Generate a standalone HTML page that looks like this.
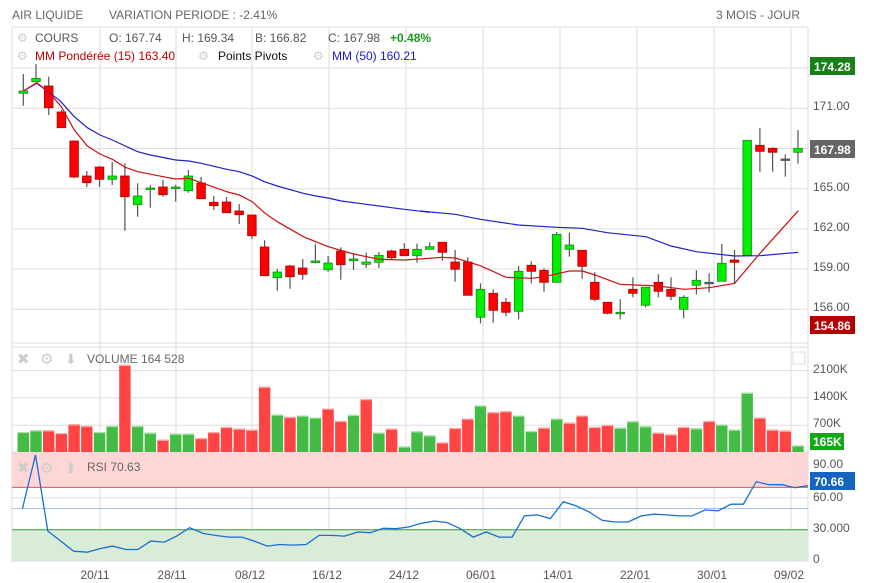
<!DOCTYPE html>
<html><head><meta charset="utf-8"><style>
body{margin:0;background:#fff;}
svg{display:block;font-family:"Liberation Sans",sans-serif;}
</style></head><body>
<svg id="s" width="871" height="583" viewBox="0 0 871 583" xmlns="http://www.w3.org/2000/svg">
<rect width="871" height="583" fill="#fff"/>
<g id="grid"></g>
<rect x="12" y="452" width="796" height="35" fill="#ffd6d6"/>
<rect x="12" y="530" width="796" height="31" fill="#d9ecd7"/>
<g id="g2"></g>
<text x="12" y="19" font-size="12" fill="#666">AIR LIQUIDE</text>
<text x="109" y="19" font-size="12" fill="#666">VARIATION PERIODE : -2.41%</text>
<text x="800" y="19" font-size="12" fill="#666" text-anchor="end">3 MOIS - JOUR</text>
<g font-size="12">
<text x="17" y="42" fill="#ccc">⚙</text><text x="35" y="42" fill="#555">COURS</text>
<text x="109" y="42" fill="#555">O: 167.74</text>
<text x="182" y="42" fill="#555">H: 169.34</text>
<text x="255" y="42" fill="#555">B: 166.82</text>
<text x="328" y="42" fill="#555">C: 167.98</text>
<text x="390" y="42" fill="#1a9a1a" font-weight="bold">+0.48%</text>
<text x="17" y="60" fill="#ccc">⚙</text><text x="35" y="60" fill="#c00000">MM Pondérée (15)  163.40</text>
<text x="198" y="60" fill="#ccc">⚙</text><text x="218" y="60" fill="#111">Points Pivots</text>
<text x="313" y="60" fill="#ccc">⚙</text><text x="332" y="60" fill="#1a1acc">MM (50)  160.21</text>
</g>
<g font-size="12" fill="#555">
<text x="813" y="110">171.00</text><text x="813" y="191">165.00</text><text x="813" y="231">162.00</text>
<text x="813" y="271">159.00</text><text x="813" y="311">156.00</text>
<text x="813" y="373">2100K</text><text x="813" y="400">1400K</text><text x="813" y="427">700K</text>
<text x="813" y="468">90.00</text><text x="813" y="501">60.00</text><text x="813" y="532">30.000</text><text x="813" y="563">0</text>
</g>
<rect x="810" y="57" width="45" height="18" fill="#1a7f1a"/><text x="814" y="71" font-size="12" font-weight="bold" fill="#fff">174.28</text>
<rect x="810" y="140" width="45" height="18" fill="#666"/><text x="814" y="154" font-size="12" font-weight="bold" fill="#fff">167.98</text>
<rect x="810" y="316" width="45" height="18" fill="#b30000"/><text x="814" y="330" font-size="12" font-weight="bold" fill="#fff">154.86</text>
<rect x="810" y="433" width="34" height="17" fill="#14a814"/><text x="813" y="446" font-size="12" font-weight="bold" fill="#fff">165K</text>
<rect x="810" y="472" width="45" height="18" fill="#1565c0"/><text x="814" y="486" font-size="12" font-weight="bold" fill="#fff">70.66</text>
<g font-size="12" fill="#999">
<text x="17" y="364" font-size="15" fill="#ccc">✖</text><text x="40" y="364" font-size="15" fill="#ccc">⚙</text><text x="65" y="364" font-size="14" fill="#ccc">⬇</text>
<text x="87" y="363" fill="#666">VOLUME  164 528</text>
<text x="17" y="473" font-size="15" fill="#ccc">✖</text><text x="40" y="473" font-size="15" fill="#ccc">⚙</text><text x="65" y="473" font-size="14" fill="#ccc">⬆</text>
<text x="87" y="471" fill="#666">RSI  70.63</text>
</g>
<rect x="793" y="352" width="12" height="12" fill="none" stroke="#ddd"/>
<rect x="793" y="462" width="12" height="12" fill="none" stroke="#ddd"/>
<g font-size="12" fill="#555">
<text x="95" y="579" text-anchor="middle">20/11</text><text x="172" y="579" text-anchor="middle">28/11</text>
<text x="250" y="579" text-anchor="middle">08/12</text><text x="327" y="579" text-anchor="middle">16/12</text>
<text x="404" y="579" text-anchor="middle">24/12</text><text x="481" y="579" text-anchor="middle">06/01</text>
<text x="558" y="579" text-anchor="middle">14/01</text><text x="635" y="579" text-anchor="middle">22/01</text>
<text x="712" y="579" text-anchor="middle">30/01</text><text x="789" y="579" text-anchor="middle">09/02</text>
</g>
</svg>
<script>
const NS="http://www.w3.org/2000/svg";
const grid=document.getElementById('grid'),g2=document.getElementById('g2');
function el(p,t,a){const e=document.createElementNS(NS,t);for(const k in a)e.setAttribute(k,a[k]);p.appendChild(e);return e;}
// gridlines
[27,68,108.3,148.5,188.7,228.9,269,309.3,343,347,370.6,397.8,425.3,452,464,497.8,561].forEach(y=>el(grid,'line',{x1:12,x2:808,y1:y,y2:y,stroke:'#ddd','stroke-width':1}));
[100,176,252,329,406,483,560,637,714,791].forEach(x=>el(grid,'line',{x1:x,x2:x,y1:27,y2:562,stroke:'#ddd','stroke-width':1}));
el(grid,'line',{x1:12,x2:12,y1:27,y2:562,stroke:'#ddd'});
el(grid,'line',{x1:808,x2:808,y1:27,y2:562,stroke:'#ddd'});
el(grid,'line',{x1:12,x2:808,y1:27,y2:27,stroke:'#ddd'});
// rsi ref lines
el(g2,'line',{x1:12,x2:808,y1:487.4,y2:487.4,stroke:'#f05050'});
el(g2,'line',{x1:12,x2:808,y1:508.5,y2:508.5,stroke:'#a0c8f0'});
el(g2,'line',{x1:12,x2:808,y1:529.7,y2:529.7,stroke:'#3a9a3a'});
// candles: [color, bodyTop, bodyBot, wickTop, wickBot]
const C=[
['g',91,93.3,74,105.7],['g',78.3,81.7,64,81.7],['r',86,107.7,76.7,115],['r',112,127.7,110,127.7],['r',141,177,141,178],
['r',176,182.7,171,187],['r',167,179.3,166,187],['g',176,179.3,162,185],['r',176,196.7,163.3,230.7],['g',196,204.7,183.3,216.7],
['g',188,189.3,185,207.7],['r',187,194.7,180,196.7],['g',187,188.3,185,201.7],['g',176,190.7,170,192.7],['r',183,198.7,177,198.7],
['r',202.3,205.7,196,210],['r',202,212.7,197,212.7],['r',211,214.7,204,224],['r',215,235.7,215,239],['r',247,275.7,240.3,275.7],
['g',272,277.7,269,290.7],['r',266,276.7,265,288.7],['r',268,274.3,259,279.7],['g',261,262.3,243.7,263.3],['g',263,269.7,256,271.7],
['r',251,264.7,247.3,279.7],['g',259,260.7,254,270],['g',262,264.3,252.7,268],['g',255.3,262.3,252,268],['r',251,257.7,249.7,259.7],
['r',249.3,255.7,243,255.7],['g',249.3,255.7,243.7,262.7],['g',246.7,249.3,242.3,249.3],['r',242.3,252.3,242.3,260.7],['r',262,269.3,250,281.7],
['r',262,295.3,257.3,295.3],['g',289.3,317.3,283.3,323.3],['r',293.3,310.3,289.3,322.7],['r',302.3,312.3,298,316.3],['g',271.3,311.3,266,319.3],
['r',265.3,271.3,261.3,283.3],['r',270.3,282.3,268.3,291.7],['g',234.3,282.3,232,282.3],['g',245,249.3,232.7,256.7],['r',250.3,266.3,250.3,278.7],
['r',282.3,299.3,272.3,301.3],['r',302.3,313.3,302.3,314.3],['g',312.3,313.7,299.3,319.3],['r',289.3,293.3,277.3,297.3],['g',287.3,305.3,287.3,307.3],
['r',282.3,291.3,274.3,297.3],['r',289.3,296.3,277.3,300.3],['g',297.3,309.3,295.3,318.3],['g',280.3,285.3,270.3,294.3],['n',282.3,283.3,273.3,292.3],
['g',263.3,281.3,244,281.3],['r',260,262.3,250,283.3],['g',140.3,255.3,140.3,255.3],['r',145.3,151.3,128,171.7],['r',148.3,152.3,147.3,171.7],
['n',159,159.6,154.3,176.7],['g',148.3,152.3,130,163.7]];
const X=i=>23.3+i*12.7;
// volume
const V=[['g',280],['g',275],['r',275],['r',283],['r',257],['r',262],['g',280],['g',262],['r',80],['g',262],['g',282],['r',303],['g',285],['g',285],['r',298],['r',280],['r',265],['r',270],['r',273],['r',145],['g',228],['r',235],['g',231],['g',237],['r',210],['r',247],['g',229],['r',182],['g',282],['r',270],['g',323],['g',278],['g',290],['r',311],['r',268],['r',240],['g',201],['r',221],['r',218],['g',231],['g',277],['r',267],['g',240],['r',252],['r',231],['r',265],['r',259],['g',267],['g',248],['g',263],['r',282],['r',287],['r',265],['g',269],['r',247],['g',258],['g',273],['g',163],['r',237],['r',273],['r',276],['g',320]];
V.forEach((v,i)=>{const y=338+v[1]*0.3357,x=X(i);
 el(g2,'rect',{x:x-5.7,y:y,width:11.4,height:452-y,fill:v[0]=='g'?'#44bb44':'#ff4444'});
 el(g2,'rect',{x:x-5.7,y:y,width:11.4,height:1.2,fill:v[0]=='g'?'#a8e0a8':'#ffaaaa'});});
C.forEach((c,i)=>{const x=X(i);
 el(g2,'line',{x1:x,x2:x,y1:c[3],y2:c[4],stroke:'#555','stroke-width':1.2});
 const col=c[0]=='g'?'#00ee00':(c[0]=='r'?'#ff0000':'#555');
 const st=c[0]=='g'?'#1a8a1a':(c[0]=='r'?'#b00000':'#555');
 el(g2,'rect',{x:x-4.3,y:c[1],width:8.6,height:Math.max(1.5,c[2]-c[1]),fill:col,stroke:st,'stroke-width':0.8});});
function line(pts,col,sx,ox,sy,oy,w){el(g2,'polyline',{points:pts.map(p=>(p[0]*sx+ox).toFixed(1)+','+(p[1]*sy+oy).toFixed(1)).join(' '),fill:'none',stroke:col,'stroke-width':w||1.2});}
const blue3=[[40,93],[80,70],[150,122],[193,170],[232,203],[270,225],[307,240],[346,258],[383,275],[421,285],[497,300],[536,303],[574,310],[650,328],[688,335],[727,348],[763,365],[802,378],[880,400],[917,408],[955,414],[994,423],[1069,433],[1145,443],[1183,448],[1258,457]];
const blue4=[[0,453],[106,463],[181,478],[295,495],[411,502],[487,505],[562,518],[678,530],[753,558],[829,575],[944,588],[1020,587],[1135,577]];
const red3=[[40,93],[80,68],[115,95],[154,140],[193,210],[232,258],[270,282],[307,298],[346,322],[383,335],[460,350],[497,357],[536,355],[574,368],[650,395],[688,405],[727,425],[763,458],[802,485],[880,530],[955,560],[1031,582],[1108,598],[1183,600],[1258,595]];
const red4=[[0,597],[66,592],[106,594],[181,617],[258,652],[334,655],[373,650],[448,633],[487,633],[525,645],[600,673],[715,678],[793,688],[868,683],[944,670],[1020,580],[1135,452]];
const cv=(a,ox)=>a.map(p=>[p[0]/3+ox,p[1]/3+60]);
line(cv(blue3,10).concat(cv(blue4,420)),'#2020cc',1,0,1,0);
line(cv(red3,10).concat(cv(red4,420)),'#cc1010',1,0,1,0);
const rsi=[[40,508],[63,348],[85,575],[108,605],[131,635],[155,638],[177,628],[200,620],[224,630],[245,630],[268,605],[292,608],[314,590],[337,565],[361,582],[383,588],[406,593],[430,593],[452,605],[475,620],[497,615],[520,617],[544,615],[567,588],[590,588],[612,590],[636,578],[658,580],[681,567],[704,568],[726,563],[749,552],[772,545],[795,550],[818,568],[841,593],[864,578],[887,593],[910,593],[932,530],[955,527],[978,538],[1001,488],[1024,500],[1047,518],[1070,543],[1093,548],[1116,548],[1140,530],[1162,525],[1185,527],[1207,530],[1230,530],[1253,512],[1276,515],[1299,495],[1321,495],[1344,428],[1367,437],[1390,437],[1413,446],[1436,440]];
line(rsi,'#1a6fd0',0.5627,0,0.3357,338,1.3);
</script>
</body></html>
